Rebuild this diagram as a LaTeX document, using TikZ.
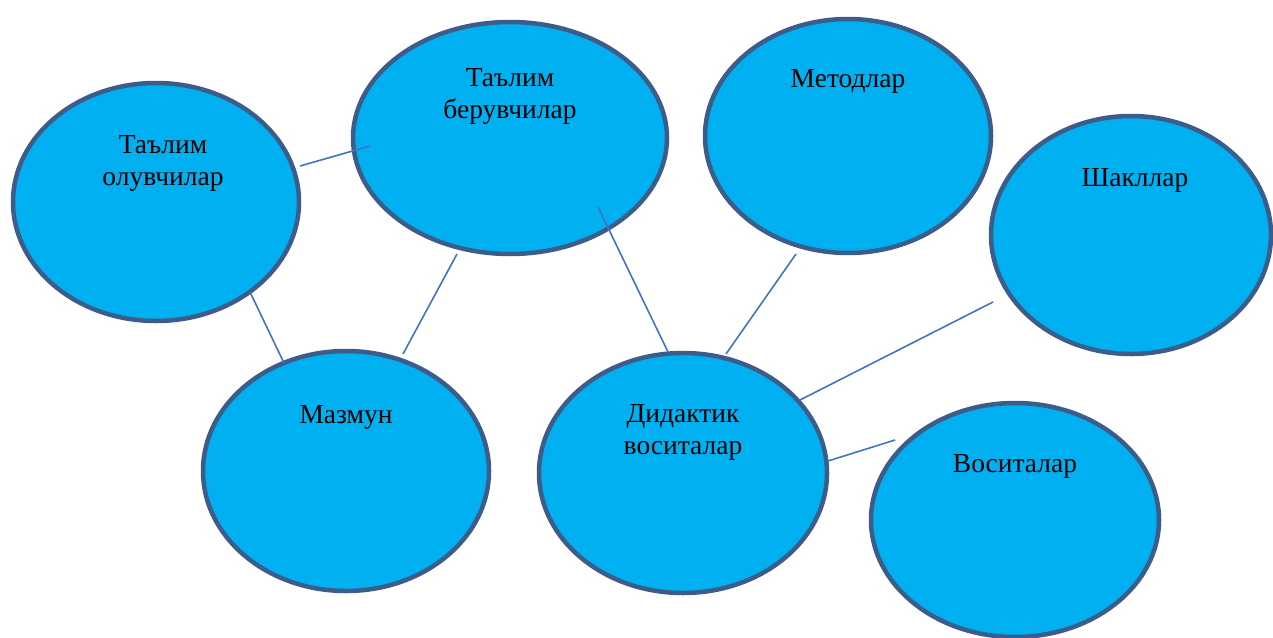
\documentclass[tikz,border=0pt]{standalone}
\usepackage{fontspec}
\setmainfont{Liberation Serif}
\usepackage{tikz}
\usetikzlibrary{shapes.geometric}

\definecolor{ellfill}{HTML}{00B0F0}
\definecolor{ellline}{HTML}{3C5D8A}
\definecolor{linkcol}{HTML}{4472C4}

\tikzset{
  ell/.style={ellipse, draw=ellline, fill=ellfill, line width=4.5pt, inner sep=0pt},
  txt/.style={align=center, font=\fontsize{27.5}{32}\selectfont, inner sep=0pt},
  link/.style={draw=linkcol, line width=1.6pt}
}

\begin{document}
\begin{tikzpicture}[x=1pt, y=-1pt]
  \useasboundingbox (0,0) rectangle (1273,637);
  % ellipses
  \node[ell, minimum width=286pt, minimum height=238pt] (olv) at (156,202) {};
  \node[ell, minimum width=314pt, minimum height=232pt] (ber) at (510,138) {};
  \node[ell, minimum width=286pt, minimum height=234pt] (met) at (848,136) {};
  \node[ell, minimum width=280pt, minimum height=238pt] (sha) at (1131,235) {};
  \node[ell, minimum width=286pt, minimum height=240pt] (maz) at (346,471) {};
  \node[ell, minimum width=288pt, minimum height=240pt] (did) at (683,473) {};
  \node[ell, minimum width=288pt, minimum height=234pt] (vos) at (1015,520) {};

  % texts
  \node[txt] (olvT) at (163,163.5) {Таълим\\олувчилар};
  \node[txt] (berT) at (510,96.5) {Таълим\\берувчилар};
  \node[txt] (metT) at (848,81.5) {Методлар};
  \node[txt] (shaT) at (1135,180.5) {Шакллар};
  \node[txt] (mazT) at (346,417.5) {Мазмун};
  \node[txt] (didT) at (683,432.5) {Дидактик\\воситалар};
  \node[txt] (vosT) at (1015,466.5) {Воситалар};

  % connector ends
  \coordinate (c1) at (300,166);
  \coordinate (c2) at (370,146);
  \coordinate (c3) at (250,292);
  \coordinate (c4) at (284,363);
  \coordinate (c5) at (457,254);
  \coordinate (c6) at (403,354);
  \coordinate (c7) at (598,207);
  \coordinate (c8) at (668,352);
  \coordinate (c9) at (796,254);
  \coordinate (c10) at (726,354);
  \coordinate (c11) at (993,302);
  \coordinate (c12) at (800,400);
  \coordinate (c13) at (895,440);
  \coordinate (c14) at (828,461);

  \draw[link] (c1) -- (c2);
  \draw[link] (c3) -- (c4);
  \draw[link] (c5) -- (c6);
  \draw[link] (c7) -- (c8);
  \draw[link] (c9) -- (c10);
  \draw[link] (c11) -- (c12);
  \draw[link] (c13) -- (c14);
\end{tikzpicture}
\end{document}
